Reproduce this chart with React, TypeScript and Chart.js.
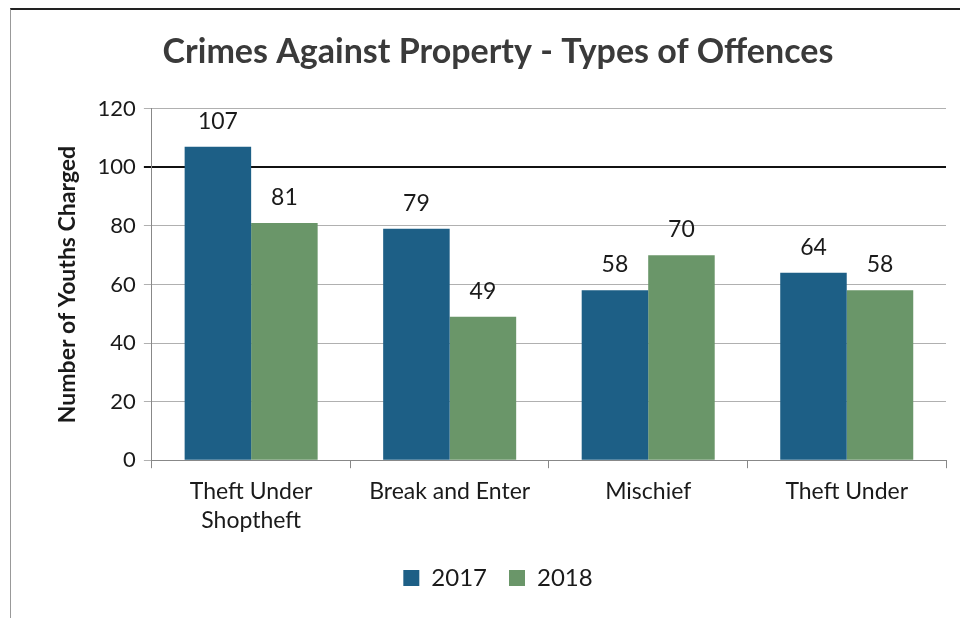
import React, { useEffect, useRef } from "react";
import { Chart, registerables } from "chart.js";

Chart.register(...registerables);

const categories: (string | string[])[] = [["Theft Under", "Shoptheft"], "Break and Enter", "Mischief", "Theft Under"];
const values2017 = [107, 79, 58, 64];
const values2018 = [81, 49, 70, 58];
const seriesNames = ["2017", "2018"];
const yTicks = { min: 0, max: 120, step: 20 };

const FONT = "Lato, 'Open Sans', sans-serif";

const dataLabels = {
  id: "dataLabels",
  afterDatasetsDraw(chart: any) {
    const ctx = chart.ctx;
    ctx.save();
    ctx.font = `23px ${FONT}`;
    ctx.fillStyle = "#1a1a1a";
    ctx.textAlign = "center";
    ctx.textBaseline = "bottom";
    chart.data.datasets.forEach((ds: any, i: number) => {
      const meta = chart.getDatasetMeta(i);
      meta.data.forEach((bar: any, j: number) => {
        ctx.fillText(String(ds.data[j]), bar.x, bar.y - 14);
      });
    });
    ctx.restore();
  },
};

export default function App() {
  const ref = useRef<HTMLCanvasElement>(null);
  useEffect(() => {
    if (!ref.current) return;
    const chart = new Chart(ref.current, {
      type: "bar",
      data: {
        labels: categories,
        datasets: [
          { label: seriesNames[0], data: values2017, backgroundColor: "#1d5f86", categoryPercentage: 0.67, barPercentage: 1 },
          { label: seriesNames[1], data: values2018, backgroundColor: "#6a9669", categoryPercentage: 0.67, barPercentage: 1 },
        ],
      },
      options: {
        animation: false,
        responsive: false,
        maintainAspectRatio: false,
        layout: { padding: { left: 50, right: 14, top: 22, bottom: 18 } },
        plugins: {
          title: {
            display: true,
            text: "Crimes Against Property - Types of Offences",
            font: { family: FONT, size: 34, weight: "bold" },
            color: "#3a3a3a",
            padding: { top: 10, bottom: 36 },
          },
          legend: {
            position: "bottom",
            labels: {
              boxWidth: 16,
              boxHeight: 16,
              color: "#1a1a1a",
              font: { family: FONT, size: 24 },
              padding: 22,
            },
          },
          tooltip: { enabled: false },
        },
        scales: {
          x: {
            grid: { offset: true, drawOnChartArea: false, tickLength: 8, color: "#888" },
            border: { color: "#888" },
            ticks: { color: "#1a1a1a", font: { family: FONT, size: 23, lineHeight: 1.3 }, padding: 8, maxRotation: 0 },
          },
          y: {
            min: yTicks.min,
            max: yTicks.max,
            ticks: { stepSize: yTicks.step, color: "#1a1a1a", font: { family: FONT, size: 22 }, padding: 8 },
            grid: {
              color: (c: any) => (c.tick && c.tick.value === 100 ? "#111" : "#b0b0b0"),
              lineWidth: (c: any) => (c.tick && c.tick.value === 100 ? 2 : 1),
              tickLength: 8,
            },
            border: { color: "#888" },
            title: {
              display: true,
              text: "Number of Youths Charged",
              font: { family: FONT, size: 23, weight: "bold" },
              color: "#1a1a1a",
              padding: { bottom: 8 },
            },
          },
        },
      },
      plugins: [dataLabels],
    });
    return () => chart.destroy();
  }, []);
  return (
    <div style={{ position: "fixed", left: 0, top: 0, width: 960, height: 618, background: "#fff" }}>
      <div style={{ position: "absolute", left: 10, top: 8, width: 950, height: 610, borderTop: "2px solid #222", borderLeft: "1px solid #999" }} />
      <canvas ref={ref} width={960} height={618} style={{ position: "absolute", left: 0, top: 0 }} />
    </div>
  );
}
